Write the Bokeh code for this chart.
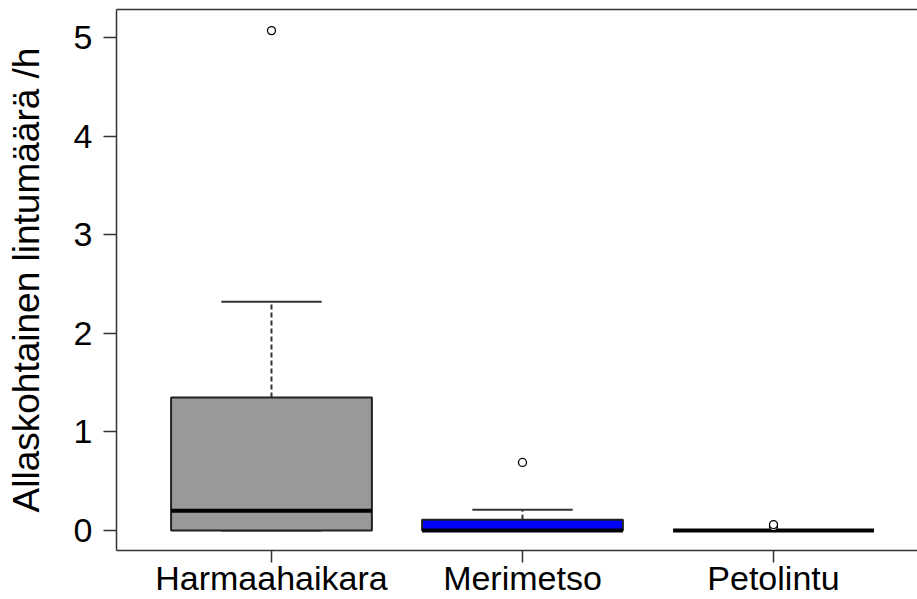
from bokeh.plotting import figure
from bokeh.models import Range1d, FixedTicker, LinearAxis, ColumnDataSource
from bokeh.embed import file_html
from bokeh.resources import INLINE

# ---- data ----
categories = ["Harmaahaikara", "Merimetso", "Petolintu"]
q1 = [0.0, 0.0, 0.0]
median = [0.20, 0.0, 0.0]
q3 = [1.35, 0.11, 0.0]
whisker_low = [0.0, 0.0, 0.0]
whisker_high = [2.32, 0.21, 0.0]
outlier_group = ["Harmaahaikara", "Merimetso", "Petolintu", "Petolintu"]
outlier_value = [5.07, 0.69, 0.04, 0.06]
fill_colors = ["#999999", "#0000FF", "#999999"]
y_ticks = [0, 1, 2, 3, 4, 5]

FONT = "Liberation Sans"
pos = list(range(1, len(categories) + 1))
box_w = 0.8
cap_w = 0.4

p = figure(width=917, height=599, output_backend="svg", toolbar_location=None,
           x_range=Range1d(0.3825, 3.5737), y_range=Range1d(-0.203, 5.284),
           min_border_left=116, min_border_right=0, min_border_top=9, min_border_bottom=49)
p.outline_line_color = None
p.xgrid.visible = False
p.ygrid.visible = False
p.background_fill_color = "white"
p.border_fill_color = "white"

src = ColumnDataSource(dict(x=pos, q1=q1, med=median, q3=q3, lo=whisker_low, hi=whisker_high,
                            color=fill_colors,
                            cl=[v - cap_w / 2 for v in pos], cr=[v + cap_w / 2 for v in pos],
                            ml=[v - box_w / 2 for v in pos], mr=[v + box_w / 2 for v in pos]))

# whiskers (dashed)
p.segment(x0="x", y0="q3", x1="x", y1="hi", source=src, line_color="#333333",
          line_width=2, line_dash="5 3")
p.segment(x0="x", y0="lo", x1="x", y1="q1", source=src, line_color="#333333",
          line_width=2, line_dash="5 3")
# caps
p.segment(x0="cl", y0="hi", x1="cr", y1="hi", source=src, line_color="#333333", line_width=2)
p.segment(x0="cl", y0="lo", x1="cr", y1="lo", source=src, line_color="#333333", line_width=2)
# boxes
p.vbar(x="x", width=box_w, top="q3", bottom="q1", source=src, fill_color="color",
       line_color="#222222", line_width=2)
# medians
p.segment(x0="ml", y0="med", x1="mr", y1="med", source=src, line_color="black", line_width=4)
# outliers
ox = [pos[categories.index(g)] for g in outlier_group]
p.scatter(ox, outlier_value, marker="circle", size=8, fill_color="white",
          line_color="black", line_width=1.3)

# axes styling
for ax in (p.xaxis[0], p.yaxis[0]):
    ax.axis_line_color = "#333333"
    ax.axis_line_width = 1.5
    ax.major_tick_line_color = "#333333"
    ax.major_tick_line_width = 1.5
    ax.major_tick_in = 0
    ax.minor_tick_line_color = None
    ax.major_label_text_font = FONT
    ax.major_label_text_color = "black"

p.yaxis.ticker = FixedTicker(ticks=y_ticks)
p.yaxis.major_tick_out = 13
p.yaxis.major_label_standoff = 11
p.yaxis.major_label_text_font_size = "34px"
p.yaxis.major_label_orientation = "horizontal"
p.yaxis.axis_label = "Allaskohtainen lintumäärä /h"
p.yaxis.axis_label_text_font = FONT
p.yaxis.axis_label_text_font_size = "37px"
p.yaxis.axis_label_text_font_style = "normal"
p.yaxis.axis_label_text_color = "black"
p.yaxis.axis_label_standoff = 24

p.xaxis.ticker = FixedTicker(ticks=pos)
p.xaxis.major_label_overrides = {v: c for v, c in zip(pos, categories)}
p.xaxis.major_tick_out = 12
p.xaxis.major_label_standoff = -4
p.xaxis.major_label_text_font_size = "34px"

# top border of the plot box
top = LinearAxis(ticker=FixedTicker(ticks=[]), major_tick_out=0, major_tick_in=0,
                 major_label_text_font_size="0px", axis_line_color="#333333",
                 axis_line_width=1.5, minor_tick_line_color=None)
p.add_layout(top, "above")

open("out.html", "w").write(file_html(p, INLINE))
